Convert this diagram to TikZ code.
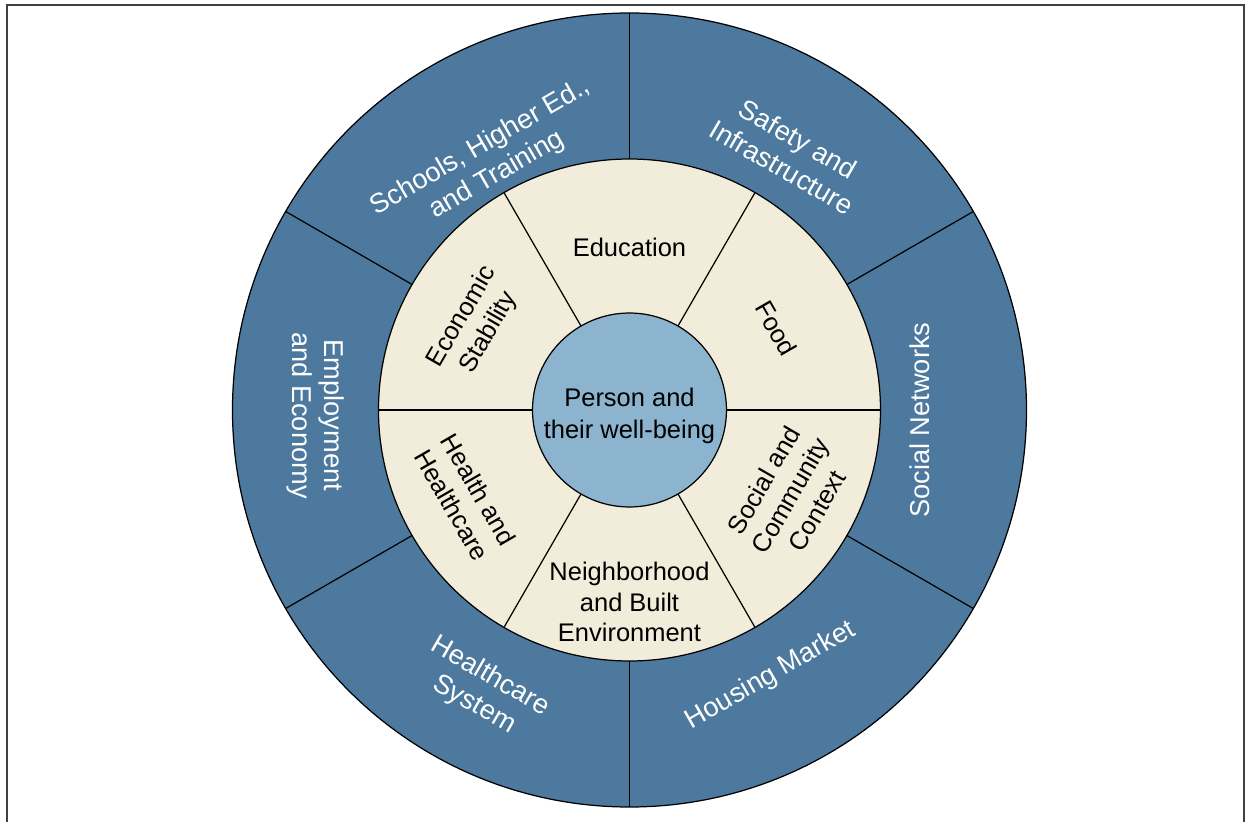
\documentclass[tikz,border=0pt]{standalone}
\usepackage{fontspec}
\setmainfont{Liberation Sans}
\usepackage{tikz}
\usetikzlibrary{positioning}

\definecolor{ringblue}{RGB}{76,121,157}
\definecolor{sand}{RGB}{241,237,218}
\definecolor{hubblue}{RGB}{140,180,206}

\begin{document}
\begin{tikzpicture}[x=0.02cm,y=0.02cm,line width=0.7pt,
    outer/.style={text=white,font=\fontsize{15.5}{18.5}\selectfont,align=center},
    inner/.style={text=black,font=\fontsize{14.5}{17.5}\selectfont,align=center}]
  \useasboundingbox (-629.5,-412) rectangle (619.5,410);
  \draw[black!75,line width=0.9pt] (-622.5,-412) -- (-622.5,405) -- (614.5,405) -- (614.5,-412);

  % rings
  \fill[ringblue] (0,0) circle (397);
  \fill[sand] (0,0) circle (251);
  \foreach \a in {90,30,-30,-90,-150,150}
    \draw (\a:251) -- (\a:397);
  \foreach \a in {0,60,...,300}
    \draw (\a:97) -- (\a:251);
  \draw (0,0) circle (397) (0,0) circle (251);

  \node (hub) [circle,draw,fill=hubblue,minimum size=3.88cm,inner sep=0pt] at (0,0) {};
  \node (hubtext) [inner,font=\fontsize{14.5}{18.5}\selectfont] at (0,-6) {Person and\\their well-being};

  % inner ring
  \node (edu) [inner] at (90:163) {Education};
  \node (food) [inner,rotate=-60] at (29:168) {Food};
  \node (social) [inner,rotate=60] at (-28:182) {Social and\\Community\\Context};
  \node (nbhd) [inner] at (-90:192) {Neighborhood\\and Built\\Environment};
  \node (health) [inner,rotate=-60] at (208:186) {Health and\\Healthcare};
  \node (econ) [inner,rotate=60] at (151:176) {Economic\\Stability};

  % outer ring
  \node (schools) [outer,rotate=30] at (119.5:286) {Schools, Higher Ed.,\\and Training};
  \node (safety) [outer,rotate=-30] at (58:303) {Safety and\\Infrastructure};
  \node (socnet) [outer,rotate=90] at (-2:290) {Social Networks};
  \node (housing) [outer,rotate=30] at (-62:301) {Housing Market};
  \node (hcsys) [outer,rotate=-30] at (242.3:317) {Healthcare\\System};
  \node (employ) [outer,rotate=-90] at (181:314) {Employment\\and Economy};
\end{tikzpicture}
\end{document}
